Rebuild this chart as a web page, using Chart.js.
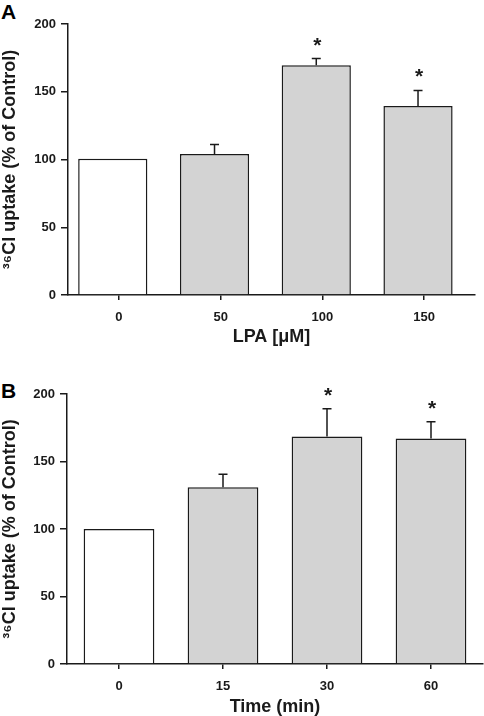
<!DOCTYPE html>
<html>
<head>
<meta charset="utf-8">
<script src="https://cdn.jsdelivr.net/npm/chart.js@4/dist/chart.umd.min.js"></script>
<style>
  html, body { margin: 0; padding: 0; background: #fff; }
  body { width: 484px; height: 716px; position: relative; overflow: hidden; font-family: "Liberation Sans", Arial, sans-serif; }
  .panel { position: absolute; left: 0; width: 484px; }
  .tag { position: absolute; left: 1px; font-weight: bold; font-size: 21px; line-height: 1; }
</style>
</head>
<body>
<div class="tag" style="top:1px;">A</div>
<div class="tag" style="top:380px;">B</div>
<div class="panel" style="top:0; height:350px;"><canvas id="chartA"></canvas></div>
<div class="panel" style="top:360px; height:356px;"><canvas id="chartB"></canvas></div>
<script>
// panel A: LPA dose
const lpaLabels = ["0", "50", "100", "150"];
const lpaValues = [100.5, 104, 169.5, 139.5];
const lpaErrors = [0, 7, 5, 11.5];
const lpaStars = [false, false, true, true];

// panel B: time course
const timeLabels = ["0", "15", "30", "60"];
const timeValues = [100, 131, 168.5, 167];
const timeErrors = [0, 9.5, 20.5, 12.5];
const timeStars = [false, false, true, true];

const yTicks = [0, 50, 100, 150, 200];
const yTitle = "³⁶Cl uptake (% of Control)";

const FONT = "'Liberation Sans', Arial, Helvetica, sans-serif";
const INK = "#1a1a1a";

// draws upper error bars and significance stars from the dataset
const errorBarPlugin = {
    id: "errorBars",
    afterDatasetsDraw(chart, args, opts) {
        const ctx = chart.ctx;
        const meta = chart.getDatasetMeta(0);
        const yScale = chart.scales.y;
        ctx.save();
        ctx.strokeStyle = INK;
        ctx.lineWidth = 1.5;
        meta.data.forEach((bar, i) => {
            const v = opts.values[i];
            const e = opts.errors[i];
            const x = bar.x;
            const yTop = yScale.getPixelForValue(v + e);
            if (e > 0) {
                ctx.beginPath();
                ctx.moveTo(x, yScale.getPixelForValue(v));
                ctx.lineTo(x, yTop);
                ctx.moveTo(x - 4.5, yTop);
                ctx.lineTo(x + 4.5, yTop);
                ctx.stroke();
            }
            if (opts.stars[i]) {
                ctx.fillStyle = INK;
                ctx.font = "bold 21px " + FONT;
                ctx.textAlign = "center";
                ctx.textBaseline = "alphabetic";
                ctx.fillText("*", x + 1, yTop - 7);
            }
        });
        ctx.restore();
    },
};

function makePanel(canvasId, labels, values, errors, stars, xTitle, layout) {
    const n = labels.length;
    const colors = values.map((v, i) => (i === 0 ? "#ffffff" : "#d3d3d3"));
    return new Chart(document.getElementById(canvasId), {
        type: "bar",
        data: {
            labels: labels,
            datasets: [{
                data: values.map((v, i) => ({ x: i, y: v })),
                xAxisID: "xb",
                backgroundColor: colors,
                borderColor: INK,
                borderWidth: 1.5,
                categoryPercentage: 1,
                barPercentage: 0.68,
            }],
        },
        options: {
            responsive: true,
            maintainAspectRatio: false,
            animation: false,
            events: [],
            layout: { padding: { top: layout.top, right: layout.right, left: 0, bottom: 0 } },
            plugins: {
                legend: { display: false },
                tooltip: { enabled: false },
                errorBars: { values, errors, stars },
            },
            scales: {
                x: {
                    type: "category",
                    offset: true,
                    grid: {
                        offset: false,
                        drawOnChartArea: false,
                        drawTicks: true,
                        tickLength: 5,
                        color: INK,
                        lineWidth: 1.5,
                    },
                    border: { color: INK, width: 1.5 },
                    ticks: {
                        color: INK,
                        padding: 10,
                        maxRotation: 0,
                        font: { family: FONT, size: 13, weight: "bold" },
                    },
                    title: {
                        display: true,
                        text: xTitle,
                        color: INK,
                        padding: { top: 0, bottom: layout.titlePad },
                        font: { family: FONT, size: 18, weight: "bold", lineHeight: 1 },
                    },
                    afterFit: (s) => { s.height = layout.xHeight; },
                },
                // hidden index axis used to place the bars (allows a small shift as in the figure)
                xb: {
                    type: "linear",
                    display: false,
                    min: -0.5 + layout.shift,
                    max: n - 0.5 + layout.shift,
                    offset: false,
                    afterBuildTicks: (s) => { s.ticks = labels.map((l, i) => ({ value: i })); },
                },
                y: {
                    min: 0,
                    max: 200,
                    afterBuildTicks: (s) => { s.ticks = yTicks.map((v) => ({ value: v })); },
                    grid: {
                        drawOnChartArea: false,
                        drawTicks: true,
                        tickLength: 7,
                        color: INK,
                        lineWidth: 1.5,
                    },
                    border: { color: INK, width: 1.5 },
                    ticks: {
                        color: INK,
                        padding: 5,
                        font: { family: FONT, size: 13, weight: "bold" },
                    },
                    title: {
                        display: true,
                        text: yTitle,
                        color: INK,
                        padding: { top: 1.5, bottom: 0 },
                        font: { family: FONT, size: 18, weight: "bold", lineHeight: 1 },
                    },
                    afterFit: (s) => { s.width = layout.yWidth; },
                },
            },
        },
        plugins: [errorBarPlugin],
    });
}

makePanel("chartA", lpaLabels, lpaValues, lpaErrors, lpaStars, "LPA [μM]",
    { top: 24, right: 9, xHeight: 55, yWidth: 68, titlePad: 4, shift: 0.06 });
makePanel("chartB", timeLabels, timeValues, timeErrors, timeStars, "Time (min)",
    { top: 34, right: 1, xHeight: 52, yWidth: 67, titlePad: 0, shift: 0 });
</script>
</body>
</html>
